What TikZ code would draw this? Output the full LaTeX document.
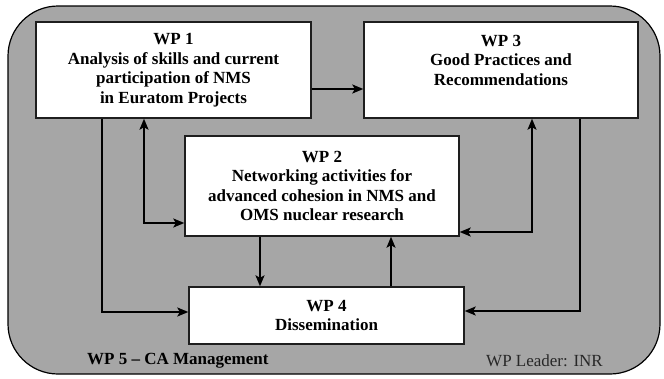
\documentclass[tikz,border=0pt]{standalone}
\usepackage{fontspec}
\setmainfont{Liberation Serif}
\usetikzlibrary{arrows.meta,calc}
\begin{document}
\begin{tikzpicture}[x=1pt,y=-1pt,
  tip/.tip={Stealth[length=11pt,width=9pt,inset=2.5pt]},
  wpbox/.style={draw={rgb,255:red,30;green,30;blue,30},line width=1.4pt,fill=white,align=center,
    font=\fontsize{17}{19.5}\selectfont\bfseries,inner sep=0pt},
  link/.style={line width=1.7pt,-tip},
  twoway/.style={line width=1.7pt,tip-tip}]
\useasboundingbox (0,0) rectangle (664,378);
% frame of the management work package
\draw[fill={rgb,255:red,166;green,166;blue,166},line width=1.2pt,rounded corners=50pt]
  (8,6) rectangle (660,374);

\node[wpbox,minimum width=275pt,minimum height=96pt] (wp1) at (173.5,70)
  {WP 1\\Analysis of skills and current\\participation of NMS\\in Euratom Projects};
\node[wpbox,minimum width=274pt,minimum height=96pt] (wp3) at (501,70)
  {WP 3\\Good Practices and\\Recommendations\\\mbox{}};
\node[wpbox,minimum width=274pt,minimum height=100pt] (wp2) at (322,186)
  {WP 2\\Networking activities for\\advanced cohesion in NMS and\\OMS nuclear research};
\node[wpbox,minimum width=275pt,minimum height=57pt] (wp4) at (326.5,315.5)
  {WP 4\\Dissemination};

% bend points of the connectors
\coordinate (a) at (102,312);
\coordinate (b) at (144,223);
\coordinate (c) at (0,89);
\coordinate (d) at (260,0);
\coordinate (e) at (391,0);
\coordinate (f) at (580,311);
\coordinate (g) at (532,232);

\draw[link] (wp1.east |- c) -- (wp3.west |- c);
\draw[link] (wp1.south -| a) |- (wp4.west |- a);
\draw[twoway] (wp1.south -| b) |- (wp2.west |- b);
\draw[link] (wp2.south -| d) -- (wp4.north -| d);
\draw[link] (wp4.north -| e) -- (wp2.south -| e);
\draw[link] (wp3.south -| f) |- (wp4.east |- f);
\draw[twoway] (wp3.south -| g) |- (wp2.east |- g);

\node[anchor=west,font=\fontsize{17}{19.5}\selectfont\bfseries,inner sep=0pt] (wp5) at (87,361) {WP 5 -- CA Management};
\node[anchor=east,font=\fontsize{17}{19.5}\selectfont,inner sep=0pt,text={rgb,255:red,40;green,40;blue,40}] (lead) at (603,361) {WP Leader: INR};
\end{tikzpicture}
\end{document}
